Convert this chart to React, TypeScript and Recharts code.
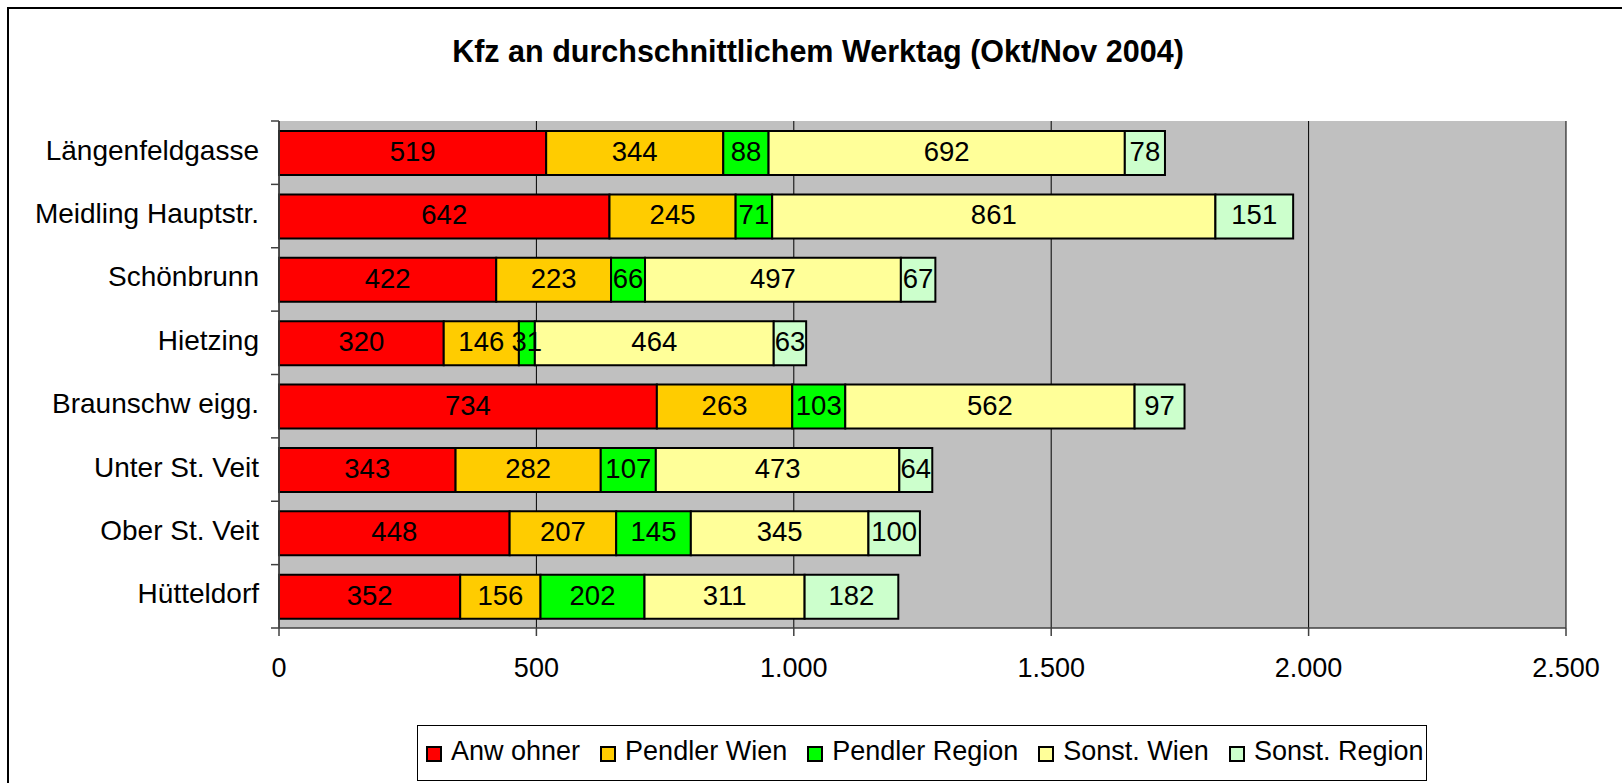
import React from 'react';
import { BarChart, Bar, XAxis, YAxis, CartesianGrid, LabelList } from 'recharts';

const FONT = '"Liberation Sans", Arial, Helvetica, sans-serif';

const title = 'Kfz an durchschnittlichem Werktag (Okt/Nov 2004)';
const categories = [
  'Längenfeldgasse',
  'Meidling Hauptstr.',
  'Schönbrunn',
  'Hietzing',
  'Braunschw eigg.',
  'Unter St. Veit',
  'Ober St. Veit',
  'Hütteldorf',
];
const anwohner = [519, 642, 422, 320, 734, 343, 448, 352];
const pendlerWien = [344, 245, 223, 146, 263, 282, 207, 156];
const pendlerRegion = [88, 71, 66, 31, 103, 107, 145, 202];
const sonstWien = [692, 861, 497, 464, 562, 473, 345, 311];
const sonstRegion = [78, 151, 67, 63, 97, 64, 100, 182];
const xTicks = [0, 500, 1000, 1500, 2000, 2500];

const seriesKeys = ['anwohner', 'pendlerWien', 'pendlerRegion', 'sonstWien', 'sonstRegion'];
const seriesNames = ['Anw ohner', 'Pendler Wien', 'Pendler Region', 'Sonst. Wien', 'Sonst. Region'];
const seriesColors = ['#FF0000', '#FFCC00', '#00FF00', '#FFFF99', '#CCFFCC'];
const seriesValues = [anwohner, pendlerWien, pendlerRegion, sonstWien, sonstRegion];

const data = categories.map((name, i) => {
  const row: Record<string, any> = { name };
  seriesKeys.forEach((k, s) => {
    row[k] = seriesValues[s][i];
  });
  return row;
});

const fmt = (n: number) => String(n).replace(/\B(?=(\d{3})+(?!\d))/g, '.');

const TICK_SIZE = 8;
const TICK_MARGIN = 12;

const CategoryTick = (props: any) => {
  const { x, y, payload } = props;
  const index = props.index ?? payload?.index ?? 0;
  const half = payload?.offset ?? 31.7;
  const axisX = x + TICK_MARGIN + TICK_SIZE;
  return (
    <g>
      <line x1={axisX - TICK_SIZE} x2={axisX} y1={y - half} y2={y - half} stroke="#404040" strokeWidth={1.5} />
      {index === categories.length - 1 && (
        <line x1={axisX - TICK_SIZE} x2={axisX} y1={y + half} y2={y + half} stroke="#404040" strokeWidth={1.5} />
      )}
      <text x={x} y={y + 7} textAnchor="end" fontSize={28} fill="#000" fontFamily={FONT}>
        {payload.value}
      </text>
    </g>
  );
};

const renderValue = (props: any) => {
  const vb = props.viewBox && props.viewBox.width !== undefined ? props.viewBox : props;
  const { x, y, width, height } = vb;
  const value = props.value;
  if (value === undefined || value === null) return null;
  return (
    <text
      x={x + width / 2}
      y={y + height / 2 + 8}
      textAnchor="middle"
      fontSize={27.5}
      fill="#000"
      fontFamily={FONT}
    >
      {value}
    </text>
  );
};

export default function App() {
  return (
    <div
      style={{
        position: 'fixed',
        left: 0,
        top: 0,
        width: 1622,
        height: 783,
        overflow: 'hidden',
        background: '#fff',
        fontFamily: FONT,
      }}
    >
      <div
        style={{
          position: 'absolute',
          left: 7,
          top: 7,
          width: 1700,
          height: 900,
          borderTop: '2px solid #000',
          borderLeft: '2px solid #000',
        }}
      />
      <div
        style={{
          position: 'absolute',
          left: 0,
          top: 36,
          width: 1636,
          textAlign: 'center',
          fontSize: 30.5,
          lineHeight: '30px',
          fontWeight: 'bold',
          color: '#000',
          whiteSpace: 'nowrap',
        }}
      >
        {title}
      </div>
      <div style={{ position: 'absolute', left: 0, top: 0 }}>
        <BarChart
          width={1622}
          height={783}
          data={data}
          layout="vertical"
          margin={{ top: 121, right: 56, left: 0, bottom: 95 }}
        >
          <CartesianGrid horizontal={false} vertical={true} stroke="#000" strokeWidth={1} fill="#C0C0C0" fillOpacity={1} />
          <XAxis
            type="number"
            domain={[0, 2500]}
            ticks={xTicks}
            interval={0}
            tickFormatter={fmt}
            tickSize={8}
            tickMargin={22}
            height={60}
            axisLine={{ stroke: '#404040', strokeWidth: 1.5 }}
            tickLine={{ stroke: '#404040', strokeWidth: 1.5 }}
            tick={{ fontSize: 27, fill: '#000', fontFamily: FONT }}
          />
          <XAxis
            xAxisId="top"
            orientation="top"
            type="number"
            domain={[0, 2500]}
            height={0}
            tick={false}
            tickLine={false}
            axisLine={{ stroke: '#808080', strokeWidth: 2 }}
          />
          <YAxis
            type="category"
            dataKey="name"
            width={279}
            interval={0}
            tickSize={TICK_SIZE}
            tickMargin={TICK_MARGIN}
            tickLine={false}
            axisLine={{ stroke: '#404040', strokeWidth: 1.5 }}
            tick={<CategoryTick />}
          />
          <YAxis
            yAxisId="right"
            orientation="right"
            type="category"
            dataKey="name"
            width={0}
            tick={false}
            tickLine={false}
            axisLine={{ stroke: '#808080', strokeWidth: 2 }}
          />
          {seriesKeys.map((k, s) => (
            <Bar
              key={k}
              dataKey={k}
              name={seriesNames[s]}
              stackId="a"
              fill={seriesColors[s]}
              stroke="#000"
              strokeWidth={2}
              barSize={44}
              isAnimationActive={false}
            >
              <LabelList dataKey={k} content={renderValue} />
            </Bar>
          ))}
        </BarChart>
      </div>
      <div
        style={{
          position: 'absolute',
          left: 417,
          top: 725,
          width: 1010,
          height: 56,
          border: '1.5px solid #000',
          boxSizing: 'border-box',
          display: 'flex',
          alignItems: 'center',
          paddingLeft: 8,
          paddingBottom: 4,
          fontSize: 27,
          lineHeight: '27px',
          color: '#000',
          background: '#fff',
        }}
      >
        {seriesNames.map((n, s) => (
          <div key={n} style={{ display: 'flex', alignItems: 'center', marginRight: s === seriesNames.length - 1 ? 0 : 20 }}>
            <span
              style={{
                display: 'inline-block',
                width: 16,
                height: 16,
                boxSizing: 'border-box',
                border: '2px solid #000',
                background: seriesColors[s],
                marginRight: 9,
                marginTop: 6,
              }}
            />
            <span style={{ whiteSpace: 'nowrap' }}>{n}</span>
          </div>
        ))}
      </div>
    </div>
  );
}
